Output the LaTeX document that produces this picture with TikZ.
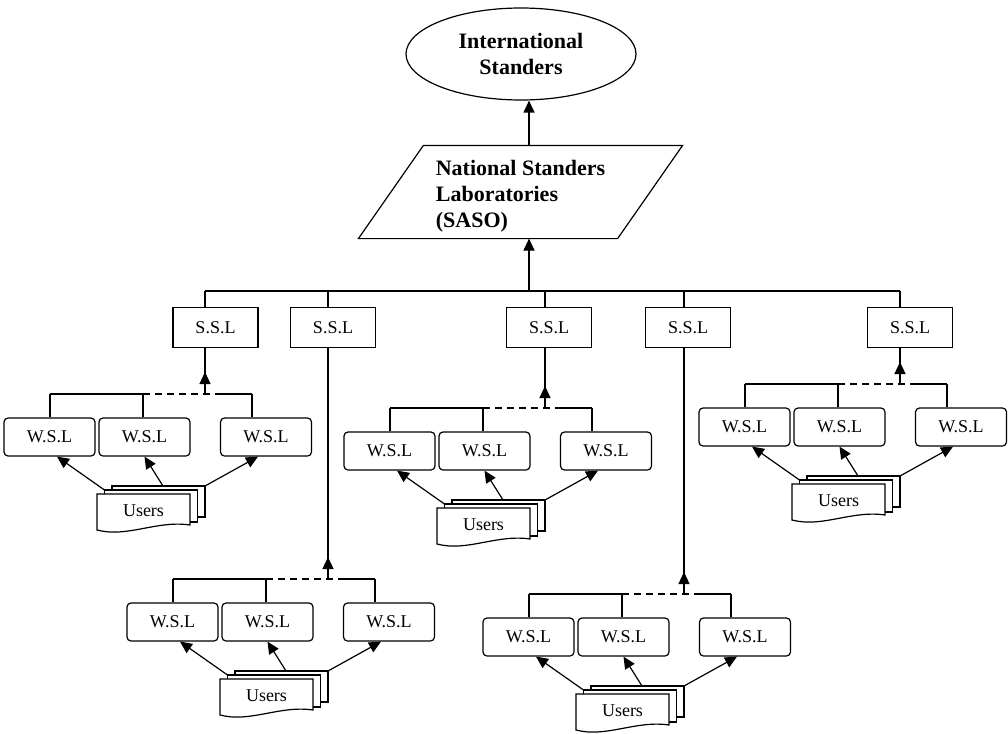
\documentclass[tikz,border=0pt]{standalone}
\usepackage{fontspec}
\setmainfont{Liberation Serif}
\usetikzlibrary{arrows.meta,shapes.geometric,calc,decorations.markings}
\tikzset{
  txt/.style={font=\fontsize{18}{21}\selectfont},
  boldtxt/.style={font=\bfseries\fontsize{22}{25.5}\selectfont},
  arr/.style={-{Triangle[length=12pt,width=11pt]}},
  sslbox/.style={draw, rectangle, minimum width=85pt, minimum height=40pt, inner sep=0pt, txt},
  wslbox/.style={draw, rectangle, rounded corners=4pt, minimum width=91pt, minimum height=38pt, inner sep=0pt, txt},
  usertext/.style={rectangle, minimum width=93pt, minimum height=34pt, inner sep=0pt, txt},
  docsheet/.style={draw, fill=white},
  dashbus/.style={dash pattern=on 7pt off 5pt},
  uparr/.style={postaction={decorate}, decoration={markings, mark=at position 22pt with {\arrow{Triangle[length=12pt,width=11pt]}}}},
}
\newcommand\wslgroup[3]{%
\begin{scope}[shift={(#2)}]
  \node[wslbox] (#1w1) at (45.5,43) {W.S.L};
  \node[wslbox] (#1w2) at (140.5,43) {W.S.L};
  \node[wslbox] (#1w3) at (262,43) {W.S.L};
  \coordinate (#1v1) at (46,0);
  \coordinate (#1v2) at (139,0);
  \coordinate (#1d) at (215,0);
  \coordinate (#1v3) at (248,0);
  \coordinate (#1a) at (201,0);
  \draw (#1v1) -- (#1v2);
  \draw[dashbus] (#1v2) -- (#1d);
  \draw (#1d) -- (#1v3);
  \draw (#1v1) -- (#1v1 |- #1w1.north);
  \draw (#1v2) -- (#1v2 |- #1w2.north);
  \draw (#1v3) -- (#1v3 |- #1w3.north);
  \draw[uparr] (#1a) -- (#1a |- #3.south);
  \filldraw[docsheet] (108,92) rectangle (201,123);
  \filldraw[docsheet] (100.5,96) rectangle (193.5,128);
  \filldraw[docsheet] (93,100) -- (186,100) -- (186,131) .. controls (153,126) and (123,144) .. (93,136) -- cycle;
  \node[usertext] (#1u) at (139.5,117) {Users};
  \coordinate (#1s1) at (100.5,96);
  \coordinate (#1s2) at (159,92);
  \coordinate (#1s3) at (201,92);
  \coordinate (#1t1) at (53,0);
  \coordinate (#1t3) at (254,0);
  \draw[arr] (#1s1) -- (#1t1 |- #1w1.south);
  \draw[arr] (#1s2) -- (#1w2.south);
  \draw[arr] (#1s3) -- (#1t3 |- #1w3.south);
\end{scope}}
\begin{document}
\begin{tikzpicture}[x=1pt,y=-1pt,line width=1.2pt]
\useasboundingbox (0,0) rectangle (1008,733);
% top
\node[ellipse, draw, minimum width=230pt, minimum height=92pt, inner sep=0pt, align=center, boldtxt] (intl) at (521,54) {International\\Standers};
\node[rectangle, minimum width=258pt, minimum height=92pt, inner sep=0pt, align=left, font=\bfseries\fontsize{22}{26}\selectfont] (nat) at (520.5,196) {National Standers\\Laboratories\\(SASO)};
\coordinate (pTL) at ($(nat.north west)+(32.5,-4)$);
\coordinate (pTR) at ($(nat.north east)+(32.5,-4)$);
\coordinate (pBR) at ($(nat.south east)+(-32.5,-4)$);
\coordinate (pBL) at ($(nat.south west)+(-32.5,-4)$);
\draw (pTL) -- (pTR) -- (pBR) -- (pBL) -- cycle;
\coordinate (topx) at (529,0);
\coordinate (bus) at (0,291);
\draw[arr] (topx |- pTL) -- (topx |- intl.south);
\draw[arr] (topx |- bus) -- (topx |- pBL);
% S.S.L boxes
\node[sslbox] (s1) at (215.5,327.5) {S.S.L};
\node[sslbox] (s2) at (333,327.5) {S.S.L};
\node[sslbox] (s3) at (549,327.5) {S.S.L};
\node[sslbox] (s4) at (688,327.5) {S.S.L};
\node[sslbox] (s5) at (910,327.5) {S.S.L};
% groups
\wslgroup{A}{4,394}{s1}
\wslgroup{B}{127,579}{s2}
\wslgroup{C}{344,408}{s3}
\wslgroup{D}{483,594}{s4}
\wslgroup{E}{699,384}{s5}
% bus and feeds
\draw (Aa |- bus) -- (Ea |- bus);
\draw (Aa |- bus) -- (Aa |- s1.north);
\draw (Ba |- bus) -- (Ba |- s2.north);
\draw (Ca |- bus) -- (Ca |- s3.north);
\draw (Da |- bus) -- (Da |- s4.north);
\draw (Ea |- bus) -- (Ea |- s5.north);
\end{tikzpicture}
\end{document}
